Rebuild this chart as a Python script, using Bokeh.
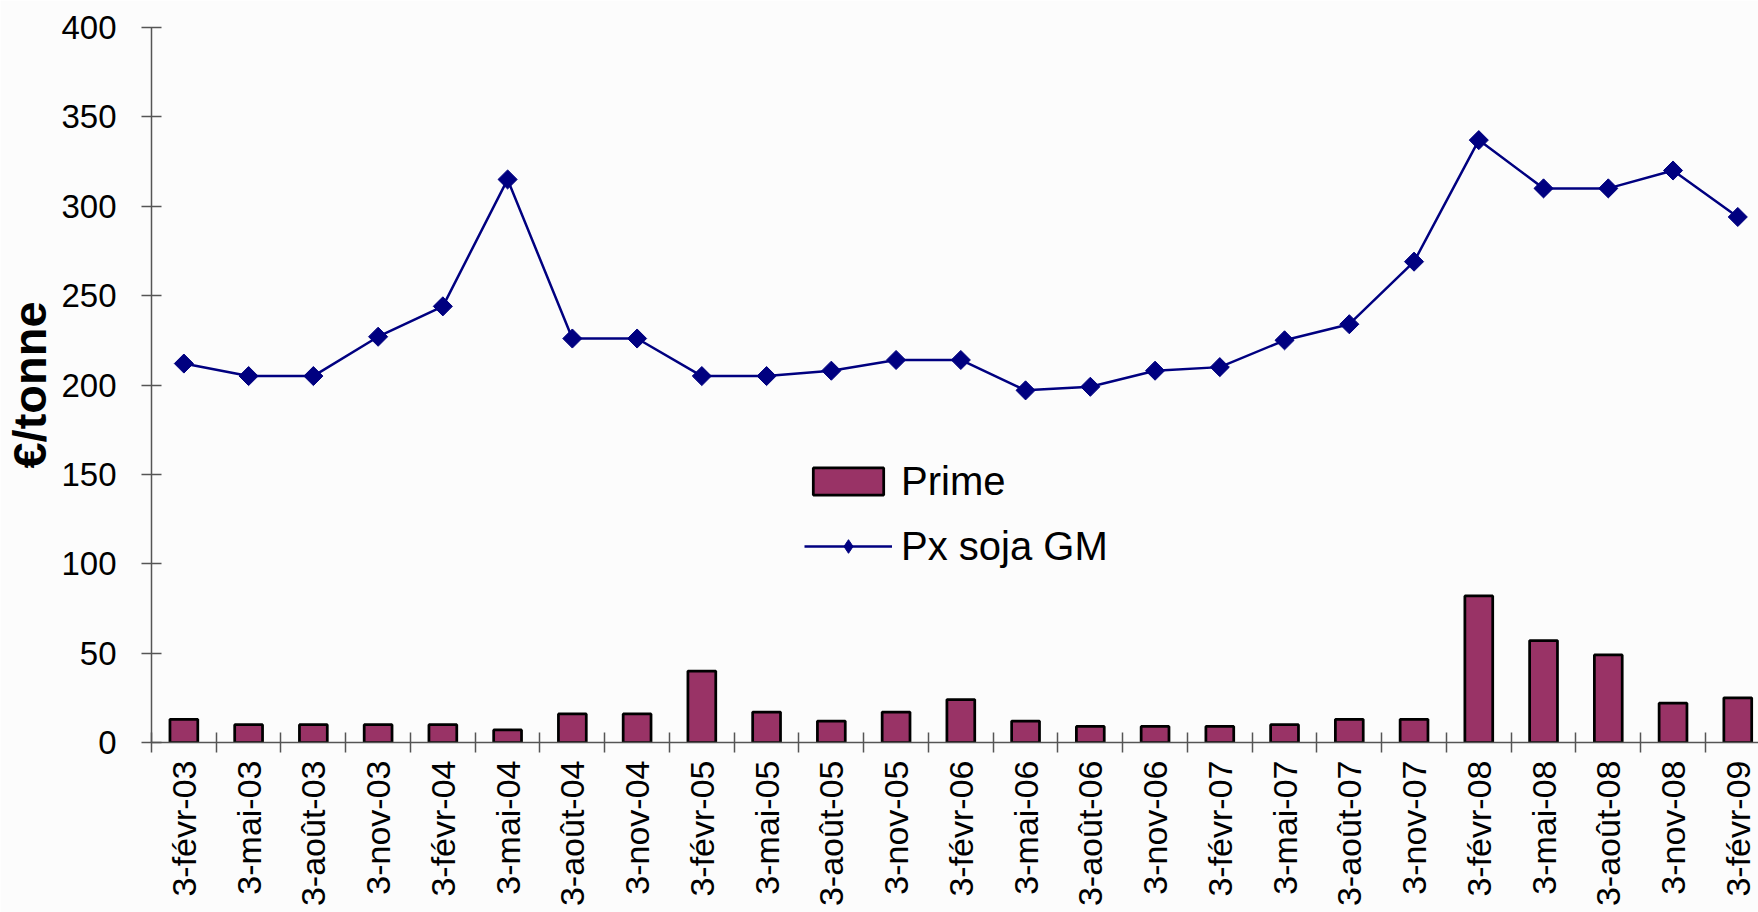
import math
from bokeh.plotting import figure
from bokeh.models import (Range1d, FixedTicker, Legend, LegendItem, CustomJSTickFormatter,
                          ColumnDataSource, CDSView, IndexFilter)
from bokeh.embed import file_html
from bokeh.resources import INLINE

# ---- data ----
categories = ["3-févr-03", "3-mai-03", "3-août-03", "3-nov-03", "3-févr-04", "3-mai-04",
              "3-août-04", "3-nov-04", "3-févr-05", "3-mai-05", "3-août-05", "3-nov-05",
              "3-févr-06", "3-mai-06", "3-août-06", "3-nov-06", "3-févr-07", "3-mai-07",
              "3-août-07", "3-nov-07", "3-févr-08", "3-mai-08", "3-août-08", "3-nov-08",
              "3-févr-09"]
prime = [13, 10, 10, 10, 10, 7, 16, 16, 40, 17, 12, 17, 24, 12, 9, 9, 9, 10, 13, 13,
         82, 57, 49, 22, 25]
px_soja = [212, 205, 205, 227, 244, 315, 226, 226, 205, 205, 208, 214, 214, 197, 199,
           208, 210, 225, 234, 269, 337, 310, 310, 320, 294]
y_ticks = [0, 50, 100, 150, 200, 250, 300, 350, 400]

FONT = "Liberation Sans"
AXIS_COLOR = "#555555"
BG = "#FCFCFC"
NAVY = "#000080"

n = len(categories)
xc = [i + 0.5 for i in range(n)]
bounds = list(range(n + 1))
src = ColumnDataSource(dict(x=xc, prime=prime, px=px_soja))

p = figure(width=1758, height=912,
           x_range=Range1d(0, n - 0.18), y_range=Range1d(0, 400),
           output_backend="svg", toolbar_location=None,
           min_border_left=146, min_border_right=0, min_border_top=27, min_border_bottom=170,
           background_fill_color=BG, border_fill_color=BG, outline_line_color=None)
p.xgrid.visible = False
p.ygrid.visible = False

bars = p.vbar(x="x", top="prime", source=src, width=0.43, fill_color="#993366",
              line_color="black", line_width=2.75)
line = p.line(x="x", y="px", source=src, line_color=NAVY, line_width=2.5)
# diamond swatch for the legend (drawn under the first rotated-square marker, so hidden)
leg_marker = p.scatter(x="x", y="px", source=src, marker="diamond", size=13.5,
                       fill_color=NAVY, line_color=NAVY,
                       view=CDSView(filter=IndexFilter(indices=[0])))
pts = p.scatter(x="x", y="px", source=src, marker="square", angle=math.pi / 4, size=13.5,
                fill_color=NAVY, line_color=NAVY)

# x axis: ticks at category boundaries, labels at centres
xa = p.xaxis[0]
xa.ticker = FixedTicker(ticks=xc, minor_ticks=bounds)
xa.formatter = CustomJSTickFormatter(args=dict(labels=categories),
                                     code="return labels[Math.floor(tick)] || '';")
xa.axis_line_color = AXIS_COLOR
xa.axis_line_width = 1.5
xa.major_tick_line_color = None
xa.major_tick_in = 0
xa.major_tick_out = 10
xa.minor_tick_line_color = AXIS_COLOR
xa.minor_tick_line_width = 1.5
xa.minor_tick_in = 10
xa.minor_tick_out = 10
xa.major_label_orientation = math.pi / 2
xa.major_label_standoff = 8
xa.major_label_text_font = FONT
xa.major_label_text_font_size = "34px"
xa.major_label_text_color = "black"

# y axis
ya = p.yaxis[0]
ya.ticker = FixedTicker(ticks=y_ticks)
ya.axis_line_color = AXIS_COLOR
ya.axis_line_width = 1.5
ya.major_tick_line_color = AXIS_COLOR
ya.major_tick_line_width = 1.5
ya.major_tick_in = 10
ya.major_tick_out = 10
ya.minor_tick_line_color = None
ya.major_label_standoff = 25
ya.major_label_text_font = FONT
ya.major_label_text_font_size = "33px"
ya.major_label_text_color = "black"
ya.axis_label = "€/tonne"
ya.axis_label_text_font = FONT
ya.axis_label_text_font_size = "47px"
ya.axis_label_text_font_style = "bold"
ya.axis_label_text_color = "black"
ya.axis_label_standoff = 2

legend = Legend(items=[LegendItem(label="Prime", renderers=[bars]),
                       LegendItem(label="Px soja GM", renderers=[line, leg_marker])],
                location=(653, 173), orientation="vertical",
                glyph_width=88, glyph_height=34, label_standoff=9,
                label_text_font=FONT, label_text_font_size="40px", label_text_color="black",
                label_height=46, spacing=19, padding=0, margin=0,
                border_line_color=None, background_fill_alpha=0)
p.add_layout(legend)

open("out.html", "w").write(file_html(p, INLINE))
